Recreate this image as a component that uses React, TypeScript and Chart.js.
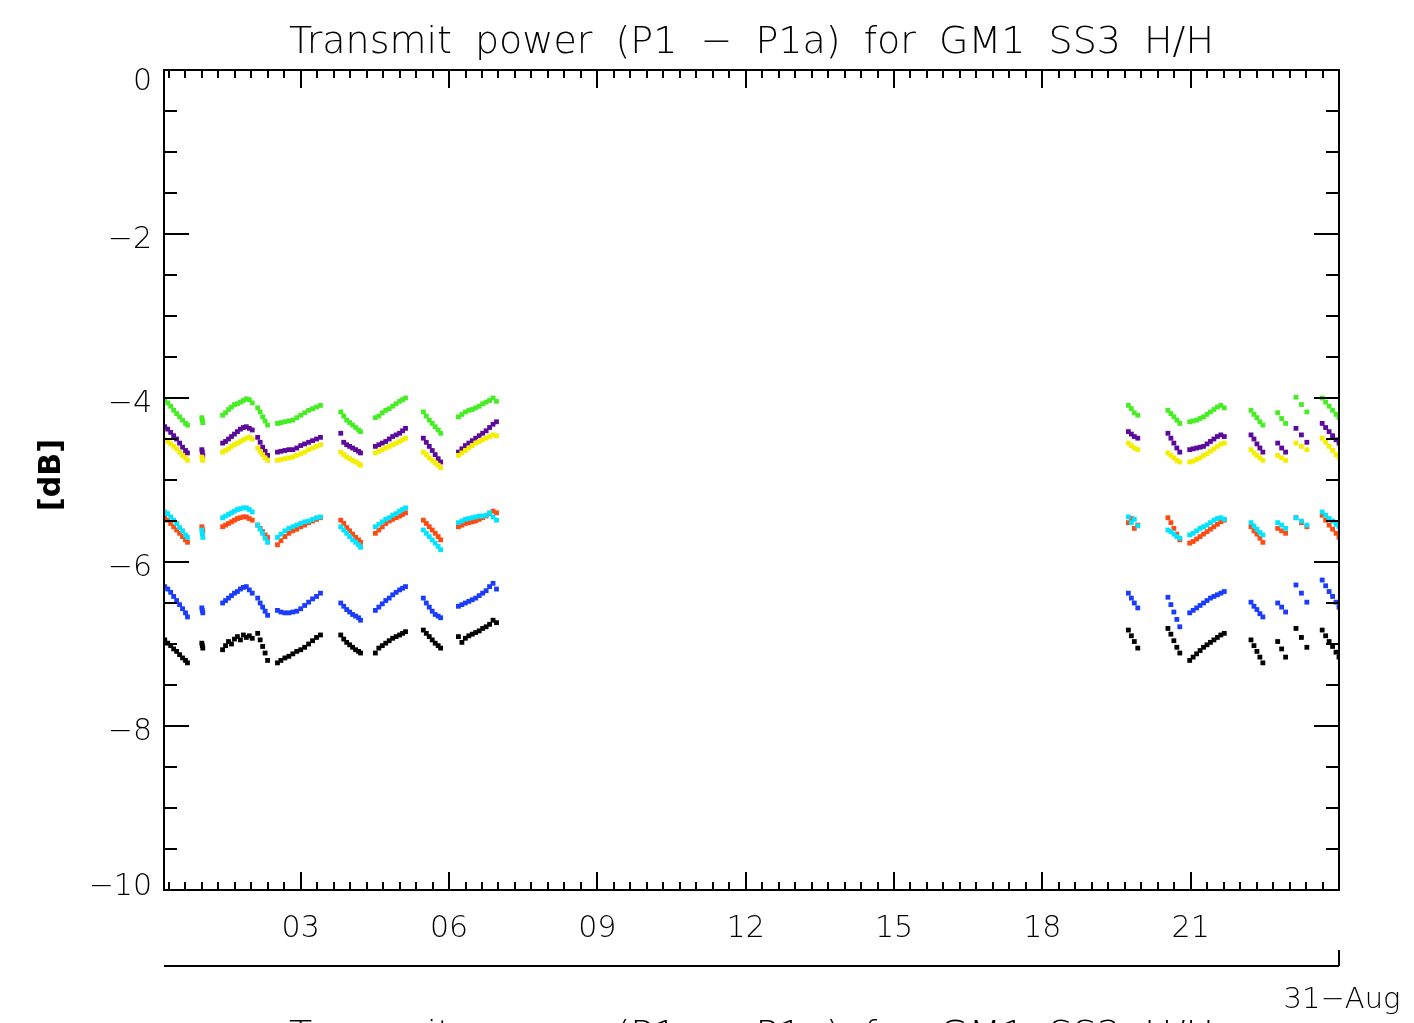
import React, { useEffect, useRef } from 'react';
import { Chart, registerables } from 'chart.js';

Chart.register(...registerables);

// ---------- text ----------
const TITLE_WORDS = ['Transmit', 'power', '(P1', '−', 'P1a)', 'for', 'GM1', 'SS3', 'H/H'];
const Y_TITLE = '[dB]';
const DATE_LABEL = '31−Aug';

// ---------- axes ----------
const X_MIN = 0.235;
const X_MAX = 24.0;
const Y_MIN = -10;
const Y_MAX = 0;
const xMajorTicks = [3, 6, 9, 12, 15, 18, 21];
const xTickLabels = ['03', '06', '09', '12', '15', '18', '21'];
const xMinorStep = 1 / 3;
const yMajorTicks = [0, -2, -4, -6, -8, -10];
const yTickLabels = ['0', '−2', '−4', '−6', '−8', '−10'];
const yMinorStep = 0.5;

// ---------- data (day of month) ----------
const times = [
  0.25, 0.31, 0.37, 0.43, 0.49, 0.55, 0.61, 0.67, 0.71,
  1.0, 1.01, 1.02,
  1.42, 1.48, 1.54, 1.6, 1.66, 1.72, 1.78, 1.84, 1.9, 1.96, 2.02,
  2.13, 2.18, 2.23, 2.28, 2.33,
  2.53, 2.6, 2.68, 2.76, 2.84, 2.92, 3.0, 3.08, 3.16, 3.24, 3.32, 3.4,
  3.81, 3.87, 3.93, 3.99, 4.05, 4.11, 4.17, 4.21,
  4.51, 4.58, 4.65, 4.72, 4.79, 4.86, 4.93, 5.0, 5.06, 5.12,
  5.48, 5.54, 5.6, 5.66, 5.72, 5.78, 5.83,
  6.19, 6.26, 6.33, 6.4, 6.47, 6.54, 6.61, 6.68, 6.75, 6.82, 6.89, 6.96,
  19.74, 19.8, 19.86, 19.93,
  20.54, 20.6, 20.66, 20.72, 20.78,
  20.98, 21.05, 21.12, 21.19, 21.26, 21.33, 21.4, 21.47, 21.54, 21.61, 21.68,
  22.22, 22.28, 22.34, 22.4, 22.46,
  22.76, 22.84, 22.92,
  23.13, 23.24, 23.35,
  23.66, 23.73, 23.8, 23.87, 23.94, 24.0,
];

const greenValues = [
  -4.02, -4.06, -4.10, -4.15, -4.19, -4.23, -4.27, -4.31, -4.33,
  -4.24, -4.27, -4.30,
  -4.21, -4.18, -4.14, -4.11, -4.08, -4.07, -4.05, -4.03, -4.01, -4.02, -4.06,
  -4.12, -4.17, -4.23, -4.28, -4.33,
  -4.31, -4.30, -4.29, -4.28, -4.27, -4.24, -4.21, -4.18, -4.15, -4.13, -4.11, -4.09,
  -4.17, -4.22, -4.27, -4.30, -4.33, -4.36, -4.39, -4.41,
  -4.24, -4.22, -4.18, -4.15, -4.13, -4.10, -4.07, -4.04, -4.02, -4.00,
  -4.17, -4.22, -4.27, -4.31, -4.35, -4.39, -4.43,
  -4.23, -4.20, -4.17, -4.15, -4.14, -4.12, -4.10, -4.07, -4.05, -4.03, -4.00, -4.04,
  -4.09, -4.13, -4.18, -4.21,
  -4.15, -4.19, -4.23, -4.27, -4.31,
  -4.29, -4.28, -4.27, -4.25, -4.23, -4.20, -4.17, -4.14, -4.11, -4.09, -4.12,
  -4.15, -4.20, -4.24, -4.29, -4.33,
  -4.18, -4.25, -4.31,
  -3.99, -4.08, -4.17,
  -4.00, -4.05, -4.10, -4.15, -4.20, -4.24,
];

const purpleValues = [
  -4.35, -4.38, -4.42, -4.46, -4.50, -4.55, -4.60, -4.64, -4.67,
  -4.63, -4.66, -4.70,
  -4.55, -4.53, -4.50, -4.47, -4.44, -4.41, -4.38, -4.36, -4.35, -4.37, -4.39,
  -4.48, -4.54, -4.60, -4.65, -4.70,
  -4.66, -4.65, -4.64, -4.63, -4.63, -4.61, -4.58, -4.56, -4.54, -4.52, -4.50, -4.48,
  -4.43, -4.54, -4.57, -4.59, -4.61, -4.63, -4.65, -4.67,
  -4.59, -4.57, -4.55, -4.53, -4.50, -4.47, -4.45, -4.43, -4.40, -4.37,
  -4.49, -4.54, -4.59, -4.64, -4.69, -4.74, -4.78,
  -4.66, -4.62, -4.58, -4.55, -4.52, -4.49, -4.46, -4.43, -4.40, -4.36, -4.32, -4.29,
  -4.41, -4.44, -4.47, -4.49,
  -4.43, -4.49, -4.55, -4.61, -4.66,
  -4.63, -4.62, -4.61, -4.60, -4.59, -4.56, -4.53, -4.50, -4.47, -4.45, -4.47,
  -4.45, -4.50, -4.56, -4.61, -4.66,
  -4.55, -4.61, -4.66,
  -4.37, -4.45, -4.54,
  -4.31, -4.36, -4.41, -4.46, -4.51, -4.55,
];

const yellowValues = [
  -4.51, -4.53, -4.56, -4.59, -4.62, -4.66, -4.70, -4.73, -4.76,
  -4.72, -4.74, -4.76,
  -4.66, -4.64, -4.62, -4.59, -4.57, -4.55, -4.53, -4.51, -4.49, -4.48, -4.50,
  -4.61, -4.65, -4.69, -4.73, -4.76,
  -4.76, -4.75, -4.74, -4.73, -4.72, -4.70, -4.68, -4.66, -4.63, -4.61, -4.59, -4.57,
  -4.66, -4.69, -4.72, -4.74, -4.76, -4.78, -4.80, -4.82,
  -4.67, -4.65, -4.63, -4.61, -4.59, -4.57, -4.55, -4.53, -4.51, -4.49,
  -4.66, -4.69, -4.73, -4.76, -4.79, -4.82, -4.85,
  -4.70, -4.67, -4.64, -4.61, -4.58, -4.55, -4.53, -4.51, -4.49, -4.47, -4.45, -4.46,
  -4.55, -4.58, -4.61, -4.63,
  -4.67, -4.70, -4.73, -4.76, -4.78,
  -4.78, -4.77, -4.75, -4.73, -4.70, -4.68, -4.65, -4.62, -4.59, -4.56, -4.55,
  -4.63, -4.67, -4.70, -4.73, -4.76,
  -4.70, -4.73, -4.76,
  -4.55, -4.59, -4.63,
  -4.49, -4.54, -4.59, -4.64, -4.69, -4.73,
];

const cyanValues = [
  -5.39, -5.41, -5.45, -5.49, -5.53, -5.58, -5.62, -5.67, -5.70,
  -5.61, -5.66, -5.70,
  -5.46, -5.44, -5.42, -5.40, -5.38, -5.36, -5.35, -5.34, -5.34, -5.36, -5.39,
  -5.55, -5.60, -5.65, -5.71, -5.76,
  -5.70, -5.66, -5.62, -5.59, -5.57, -5.55, -5.53, -5.51, -5.50, -5.48, -5.46, -5.45,
  -5.57, -5.61, -5.65, -5.69, -5.73, -5.76, -5.79, -5.82,
  -5.57, -5.54, -5.51, -5.48, -5.46, -5.43, -5.41, -5.38, -5.36, -5.34,
  -5.61, -5.65, -5.69, -5.73, -5.77, -5.81, -5.85,
  -5.52, -5.50, -5.48, -5.47, -5.46, -5.45, -5.44, -5.44, -5.43, -5.40, -5.45, -5.49,
  -5.45, -5.52, -5.48, -5.56,
  -5.61, -5.63, -5.66, -5.69, -5.71,
  -5.67, -5.65, -5.62, -5.59, -5.57, -5.55, -5.52, -5.49, -5.47, -5.46, -5.48,
  -5.52, -5.56, -5.60, -5.64, -5.67,
  -5.52, -5.55, -5.59,
  -5.46, -5.50, -5.55,
  -5.39, -5.43, -5.47, -5.50, -5.54, -5.57,
];

const orangeValues = [
  -5.46, -5.49, -5.53, -5.57, -5.61, -5.65, -5.69, -5.73, -5.76,
  -5.57, -5.60, -5.63,
  -5.57, -5.55, -5.53, -5.51, -5.49, -5.47, -5.46, -5.45, -5.45, -5.47, -5.49,
  -5.55, -5.59, -5.63, -5.67, -5.70,
  -5.79, -5.74, -5.69, -5.65, -5.62, -5.60, -5.57, -5.55, -5.52, -5.50, -5.48, -5.46,
  -5.49, -5.53, -5.58, -5.62, -5.66, -5.70, -5.73, -5.76,
  -5.65, -5.61, -5.57, -5.53, -5.50, -5.48, -5.46, -5.44, -5.42, -5.40,
  -5.49, -5.53, -5.57, -5.61, -5.65, -5.69, -5.73,
  -5.57, -5.55, -5.53, -5.52, -5.51, -5.50, -5.48, -5.46, -5.44, -5.41, -5.38, -5.40,
  -5.52, -5.47, -5.59, -5.55,
  -5.46, -5.52, -5.59, -5.66, -5.73,
  -5.77, -5.75, -5.72, -5.69, -5.66, -5.63, -5.60, -5.57, -5.54, -5.51, -5.49,
  -5.57, -5.62, -5.66, -5.71, -5.76,
  -5.59, -5.62, -5.65,
  -5.46, -5.52, -5.57,
  -5.43, -5.49, -5.55, -5.60, -5.65, -5.70,
];

const blueValues = [
  -6.30, -6.33, -6.37, -6.42, -6.47, -6.52, -6.57, -6.62, -6.67,
  -6.56, -6.59, -6.62,
  -6.50, -6.47, -6.44, -6.41, -6.38, -6.36, -6.33, -6.31, -6.30, -6.34, -6.38,
  -6.44, -6.50, -6.55, -6.60, -6.65,
  -6.59, -6.61, -6.62, -6.62, -6.61, -6.60, -6.57, -6.53, -6.49, -6.45, -6.42, -6.38,
  -6.50, -6.54, -6.58, -6.61, -6.64, -6.66, -6.68, -6.71,
  -6.59, -6.55, -6.51, -6.47, -6.44, -6.40, -6.37, -6.34, -6.32, -6.30,
  -6.44, -6.50, -6.55, -6.60, -6.64, -6.66, -6.68,
  -6.54, -6.52, -6.50, -6.48, -6.46, -6.44, -6.41, -6.38, -6.35, -6.30, -6.26, -6.33,
  -6.38, -6.44, -6.50, -6.56,
  -6.43, -6.52, -6.61, -6.70, -6.79,
  -6.62, -6.59, -6.56, -6.53, -6.50, -6.47, -6.44, -6.42, -6.40, -6.38, -6.36,
  -6.49, -6.54, -6.58, -6.63, -6.67,
  -6.50, -6.55, -6.61,
  -6.28, -6.38, -6.49,
  -6.22, -6.29, -6.36, -6.42, -6.49, -6.55,
];

const blackValues = [
  -6.95, -6.99, -7.02, -7.06, -7.09, -7.13, -7.17, -7.20, -7.23,
  -6.99, -7.02, -7.05,
  -7.07, -7.02, -6.97, -7.00, -6.94, -6.91, -6.95, -6.89, -6.92, -6.90, -6.93,
  -6.87, -6.95, -7.03, -7.11, -7.20,
  -7.23, -7.20, -7.17, -7.15, -7.12, -7.09, -7.07, -7.04, -7.00, -6.96, -6.92, -6.89,
  -6.89, -6.94, -6.98, -7.01, -7.04, -7.07, -7.09, -7.11,
  -7.11, -7.05, -7.02, -6.99, -6.96, -6.93, -6.91, -6.89, -6.87, -6.85,
  -6.83, -6.87, -6.91, -6.95, -6.99, -7.02, -7.05,
  -6.91, -6.98, -6.93, -6.90, -6.88, -6.86, -6.84, -6.81, -6.79, -6.76, -6.71, -6.74,
  -6.83, -6.90, -6.97, -7.05,
  -6.81, -6.88, -6.96, -7.04, -7.11,
  -7.20, -7.16, -7.12, -7.08, -7.04, -7.01, -6.98, -6.95, -6.92, -6.89, -6.87,
  -6.95, -7.02, -7.09, -7.16, -7.23,
  -6.97, -7.06, -7.16,
  -6.81, -6.92, -7.04,
  -6.83, -6.90, -6.97, -7.03, -7.10, -7.16,
];

const seriesValues = [blackValues, blueValues, cyanValues, orangeValues, yellowValues, purpleValues, greenValues];
const seriesColors = ['#000000', '#1a3cff', '#00e4ff', '#ff4a12', '#f4ee00', '#5c0a9c', '#44ee22'];

const FONT = '"DejaVu Sans", "Liberation Sans", sans-serif';
const LIGHT = '200';

const idlFrame = {
  id: 'idlFrame',
  afterDatasetsDraw(chart: any) {
    const { ctx, chartArea: a, scales } = chart;
    const xs = scales.x;
    const ys = scales.y;
    ctx.save();
    ctx.strokeStyle = '#000';
    ctx.fillStyle = '#000';
    ctx.lineWidth = 2;
    ctx.lineCap = 'butt';

    // frame
    ctx.strokeRect(a.left, a.top, a.right - a.left, a.bottom - a.top);

    // x ticks (bottom & top, inward)
    ctx.beginPath();
    for (let k = Math.ceil(X_MIN / xMinorStep - 1e-9); k * xMinorStep <= X_MAX + 1e-9; k++) {
      const v = k * xMinorStep;
      const px = Math.round(xs.getPixelForValue(v));
      const major = xMajorTicks.some((t) => Math.abs(t - v) < 1e-6);
      const len = major ? 18 : 8;
      ctx.moveTo(px, a.bottom);
      ctx.lineTo(px, a.bottom - len);
      ctx.moveTo(px, a.top);
      ctx.lineTo(px, a.top + len);
    }
    // y ticks (left & right, inward)
    for (let k = Math.ceil(Y_MIN / yMinorStep - 1e-9); k * yMinorStep <= Y_MAX + 1e-9; k++) {
      const v = k * yMinorStep;
      const py = Math.round(ys.getPixelForValue(v));
      const major = yMajorTicks.some((t) => Math.abs(t - v) < 1e-6);
      const len = major ? 25 : 13;
      ctx.moveTo(a.left, py);
      ctx.lineTo(a.left + len, py);
      ctx.moveTo(a.right, py);
      ctx.lineTo(a.right - len, py);
    }
    ctx.stroke();

    // x tick labels
    ctx.font = `${LIGHT} 30px ${FONT}`;
    ctx.textAlign = 'center';
    ctx.textBaseline = 'alphabetic';
    xMajorTicks.forEach((t, i) => {
      ctx.fillText(xTickLabels[i], xs.getPixelForValue(t), a.bottom + 47);
    });

    // y tick labels
    ctx.textAlign = 'right';
    yMajorTicks.forEach((t, i) => {
      const py = ys.getPixelForValue(t);
      const c = Math.min(Math.max(py + 3, a.top + 9), a.bottom - 6);
      ctx.fillText(yTickLabels[i], a.left - 12, c + 11);
    });

    // title (top) and the cut-off title of the next panel (bottom)
    ctx.font = `${LIGHT} 38px ${FONT}`;
    ctx.textAlign = 'left';
    const gap = ctx.measureText(' ').width + 11;
    const widths = TITLE_WORDS.map((w) => ctx.measureText(w).width);
    const total = widths.reduce((s, w) => s + w, 0) + gap * (TITLE_WORDS.length - 1);
    const cx = (a.left + a.right) / 2;
    const drawTitle = (baseline: number) => {
      let x0 = cx - total / 2;
      TITLE_WORDS.forEach((w, i) => {
        ctx.fillText(w, x0, baseline);
        x0 += widths[i] + gap;
      });
    };
    drawTitle(a.top - 17);
    drawTitle(a.bottom + 157);

    // secondary date axis
    const yb = a.bottom + 76;
    ctx.beginPath();
    ctx.moveTo(a.left, yb);
    ctx.lineTo(a.right, yb);
    ctx.moveTo(a.right, yb);
    ctx.lineTo(a.right, yb - 16);
    ctx.stroke();
    ctx.font = `${LIGHT} 29px ${FONT}`;
    ctx.textAlign = 'center';
    ctx.fillText(DATE_LABEL, a.right + 3, a.bottom + 118);

    // y axis title
    ctx.save();
    ctx.translate(52, 475);
    ctx.rotate(-Math.PI / 2);
    ctx.font = `bold 30px ${FONT}`;
    ctx.textAlign = 'center';
    ctx.textBaseline = 'middle';
    ctx.fillText(Y_TITLE, 0, 0);
    ctx.restore();

    ctx.restore();
  },
};

export default function App() {
  const canvasRef = useRef<HTMLCanvasElement | null>(null);

  useEffect(() => {
    document.body.style.margin = '0';
    document.body.style.background = '#fff';
    const canvas = canvasRef.current;
    if (!canvas) return;
    const datasets = seriesValues.map((vals, si) => ({
      data: times.map((t, i) => ({ x: t, y: vals[i] })),
      backgroundColor: seriesColors[si],
      borderColor: seriesColors[si],
      borderWidth: 0,
      pointStyle: 'rect' as const,
      pointRadius: 3.4,
      pointHoverRadius: 3.4,
      showLine: false,
    }));
    const chart = new Chart(canvas, {
      type: 'scatter',
      data: { datasets },
      options: {
        animation: false,
        responsive: false,
        maintainAspectRatio: false,
        devicePixelRatio: 1,
        layout: { padding: { left: 164, top: 70, right: 75, bottom: 133 } },
        scales: {
          x: { type: 'linear', min: X_MIN, max: X_MAX, display: false },
          y: { type: 'linear', min: Y_MIN, max: Y_MAX, display: false },
        },
        plugins: {
          legend: { display: false },
          tooltip: { enabled: false },
          title: { display: false },
        },
        events: [],
      },
      plugins: [idlFrame],
    });
    return () => chart.destroy();
  }, []);

  return (
    <div style={{ width: 1414, height: 1023, background: '#fff', overflow: 'hidden' }}>
      <canvas ref={canvasRef} width={1414} height={1023} style={{ display: 'block' }} />
    </div>
  );
}
